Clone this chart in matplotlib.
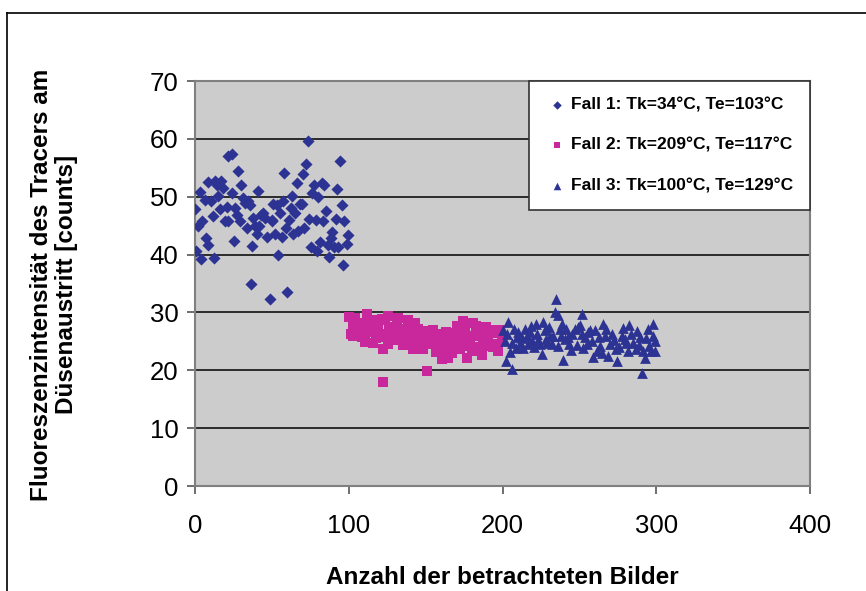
import numpy as np
import matplotlib.pyplot as plt
from matplotlib.lines import Line2D

# Fall 1 (Rauten)
fall1_x = [0, 0.7, 2.2, 3.3, 3.9, 4.8, 6.5, 7.2, 8.2, 8.7, 10.4, 11.5, 12.1, 13.0, 14.1,
           15.2, 16.1, 16.9, 18.4, 19.5, 20.6, 21.3, 21.7, 23.9, 23.9, 25.2, 26.0, 27.1,
           28.2, 29.3, 29.9, 31.5, 32.5, 33.6, 34.7, 35.8, 36.4, 37.3, 38.0, 39.0, 40.1,
           41.2, 41.6, 43.0, 44.5, 45.6, 46.6, 48.8, 49.9, 50.3, 51.0, 52.1, 53.1, 54.2,
           55.3, 56.4, 57.5, 58.1, 59.0, 60.1, 61.2, 62.5, 62.9, 64.0, 65.1, 66.2, 67.2,
           68.3, 69.4, 70.5, 71.1, 72.0, 73.8, 74.2, 75.5, 75.9, 77.7, 78.5, 79.6, 80.3,
           81.3, 82.4, 83.5, 84.2, 85.0, 86.3, 87.2, 88.3, 88.9, 90.5, 91.5, 92.2, 93.3,
           94.4, 95.4, 96.5, 97.2, 98.7, 99.3]
fall1_y = [47.9, 40.7, 44.9, 50.9, 39.2, 45.8, 49.4, 42.9, 41.6, 52.5, 49.2, 46.6, 39.4, 52.7,
           52.1, 50.1, 47.9, 52.8, 51.5, 45.8, 48.3, 45.8, 57.0, 57.3, 50.6, 42.4, 48.1,
           46.9, 54.5, 45.8, 52.0, 49.8, 48.9, 44.6, 49.2, 48.6, 35.0, 41.4, 46.3, 44.9,
           43.5, 51.0, 44.9, 46.9, 47.2, 46.3, 43.0, 32.3, 45.8, 46.0, 48.7, 43.5, 48.5,
           40.0, 47.2, 43.0, 49.2, 54.1, 44.6, 33.5, 46.0, 48.1, 50.1, 43.6, 47.2, 52.4,
           44.0, 48.7, 48.7, 53.9, 44.6, 55.6, 59.7, 46.2, 41.3, 50.6, 52.1, 45.9, 40.6,
           49.9, 42.2, 52.4, 45.8, 52.1, 47.5, 41.7, 39.6, 42.9, 43.9, 41.3, 46.2, 51.3,
           41.3, 56.1, 48.5, 38.2, 45.8, 41.9, 43.3]

# Fall 2 (Quadrate)
fall2_x = [100.4, 104.1, 112.1, 115.6, 119.2, 123.6, 125.7, 132.2, 138.7, 143.1, 101.2, 106.2,
           108.4, 111.2, 114.9, 116.0, 119.2, 122.5, 125.7, 127.9, 130.1, 131.2, 133.3,
           136.6, 137.7, 139.8, 142.0, 144.2, 146.3, 148.5, 150.7, 152.8, 153.9, 157.2,
           158.3, 160.4, 161.5, 164.8, 165.8, 168.0, 170.2, 171.3, 173.4, 174.5, 175.6,
           176.7, 178.9, 181.0, 182.1, 184.3, 185.4, 186.4, 188.6, 190.8, 192.9, 194.0,
           196.2, 197.3, 151.1, 122.1,
           102.5, 103.0, 105.5, 107.0, 109.5, 110.5, 113.0, 117.5, 118.0, 120.5, 121.5,
           124.5, 126.5, 129.0, 134.5, 135.5, 140.5, 145.0, 147.5, 149.5, 155.5, 156.5,
           159.5, 163.0, 167.0, 169.0, 172.5, 177.5, 180.0, 183.0, 187.5, 189.5, 191.5,
           195.0, 198.5, 199.5, 162.5, 154.5, 141.0, 131.5]
fall2_y = [29.2, 29.1, 29.8, 28.7, 28.5, 28.7, 29.3, 29.1, 28.7, 28.1, 26.2, 27.4, 25.7, 26.9,
           26.6, 24.8, 27.0, 23.7, 24.5, 27.4, 26.3, 25.4, 25.7, 26.3, 24.5, 26.0, 23.7,
           25.1, 26.3, 23.7, 25.4, 26.0, 24.5, 26.3, 24.2, 21.9, 23.4, 22.2, 25.4, 24.2,
           27.7, 25.7, 24.5, 28.6, 27.4, 22.2, 24.2, 28.1, 26.0, 24.0, 26.3, 22.7, 24.2,
           26.3, 26.9, 24.0, 24.5, 23.4, 19.9, 18.0,
           27.8, 25.9, 28.2, 26.6, 28.0, 24.9, 27.6, 27.9, 25.6, 26.2, 28.9, 25.8, 27.0,
           25.2, 27.2, 24.3, 24.8, 27.2, 25.2, 26.8, 25.3, 23.2, 25.5, 26.7, 23.0, 26.5,
           23.6, 25.9, 23.4, 27.7, 25.1, 27.4, 24.6, 26.4, 26.9, 25.6, 24.6, 27.0, 27.4,
           28.0]

# Fall 3 (Dreiecke)
fall3_x = [234.8, 234.2, 236.3, 251.5, 203.8, 200.6, 207.5, 204.9, 202.3, 206.4, 206.0, 209.2,
           211.4, 214.7, 215.8, 217.9, 219.0, 221.8, 223.3, 225.5, 226.6, 227.7, 229.2,
           230.9, 232.0, 237.4, 238.5, 239.6, 240.7, 242.8, 244.4, 247.2, 249.4, 251.5,
           253.7, 254.8, 256.9, 259.1, 261.3, 263.4, 265.6, 266.7, 268.9, 271.0, 273.9,
           274.3, 277.5, 279.7, 281.9, 282.5, 285.1, 286.9, 289.5, 290.5, 291.6, 292.7,
           295.5, 297.7, 298.1, 299.2,
           201.5, 203.0, 208.5, 210.0, 212.5, 213.5, 216.5, 218.5, 220.5, 222.5, 224.5,
           228.5, 230.0, 233.0, 236.0, 238.0, 241.5, 243.5, 245.5, 248.5, 250.5, 252.5,
           255.5, 258.0, 260.0, 262.5, 264.5, 267.5, 270.0, 272.5, 276.0, 278.5, 280.5,
           283.5, 287.5, 288.5, 293.5, 294.5, 296.5, 299.5]
fall3_y = [32.4, 30.1, 29.6, 29.8, 28.3, 26.9, 27.2, 23.1, 21.6, 20.3, 24.8, 25.7, 24.5, 27.2,
           26.0, 26.6, 25.1, 28.0, 25.3, 22.9, 28.3, 26.9, 24.8, 26.0, 24.5, 27.2, 28.0,
           21.7, 25.4, 25.7, 23.5, 27.2, 27.4, 26.3, 25.7, 24.5, 27.0, 22.3, 23.4, 24.2,
           28.0, 26.0, 22.5, 26.3, 23.7, 21.6, 26.0, 25.4, 23.4, 27.8, 24.8, 23.7, 25.7,
           19.6, 23.4, 22.2, 24.2, 28.0, 26.0, 23.4,
           25.0, 26.2, 23.8, 26.6, 25.6, 23.9, 24.6, 27.6, 24.0, 26.3, 24.6, 25.4, 27.5,
           26.0, 24.2, 26.0, 27.1, 24.6, 26.2, 24.3, 27.8, 23.8, 26.6, 25.0, 27.0, 25.8,
           23.0, 27.2, 24.6, 25.2, 24.0, 27.3, 24.8, 26.2, 26.8, 24.4, 25.6, 27.2, 23.4,
           25.0]

labels = ["Fall 1: Tk=34°C, Te=103°C",
          "Fall 2: Tk=209°C, Te=117°C",
          "Fall 3: Tk=100°C, Te=129°C"]

navy = '#2c3393'
magenta = '#c8289b'
font = 'Liberation Sans'

fig = plt.figure(figsize=(8.66, 5.91), dpi=100)
ax = fig.add_axes([195/866, 1 - 486/591, 615/866, 405/591])
ax.set_facecolor('#cccccc')

ax.scatter(fall1_x, fall1_y, marker='D', s=38, color=navy, linewidths=0, label=labels[0], zorder=3)
ax.scatter(fall2_x, fall2_y, marker='s', s=48, color=magenta, linewidths=0, label=labels[1], zorder=3)
ax.scatter(fall3_x, fall3_y, marker='^', s=60, color=navy, linewidths=0, label=labels[2], zorder=3)

ax.set_xlim(0, 400)
ax.set_ylim(0, 70)
ax.set_xticks([0, 100, 200, 300, 400])
ax.set_yticks(range(0, 80, 10))
ax.yaxis.grid(True, color='black', linewidth=1.1)
ax.set_axisbelow(True)
for s in ax.spines.values():
    s.set_color('#808080')
    s.set_linewidth(1.5)
ax.tick_params(axis='both', direction='out', length=6, width=1.2, color='#555555')
ax.tick_params(axis='x', pad=14)
ax.tick_params(axis='y', pad=6)
for lab in ax.get_xticklabels() + ax.get_yticklabels():
    lab.set_family(font)
    lab.set_fontsize(18.5)

ax.set_xlabel("Anzahl der betrachteten Bilder", fontsize=17.5, fontweight='bold',
              family=font, labelpad=20)
fig.text(0.062, 0.518, "Fluoreszenzintensität des Tracers am\nDüsenaustritt [counts]",
         rotation=90, ha='center', va='center', fontsize=17.5, fontweight='bold',
         family=font, linespacing=1.1)

leg = ax.legend(loc='upper right', bbox_to_anchor=(1.0, 1.0), frameon=True, fancybox=False,
                framealpha=1, edgecolor='#333333', markerscale=0.7, handletextpad=0.2,
                labelspacing=1.45, borderpad=0.95, handlelength=1.3, borderaxespad=0,
                prop={'family': font, 'weight': 'bold', 'size': 12.5})
leg.get_frame().set_linewidth(1.2)

# outer chart frame (cut off at right and bottom)
fig.add_artist(Line2D([7/866, 7/866], [0, 1 - 13/591], color='black', lw=1.2))
fig.add_artist(Line2D([7/866, 1], [1 - 13/591, 1 - 13/591], color='black', lw=1.2))

fig.savefig('out.png', dpi=100)
